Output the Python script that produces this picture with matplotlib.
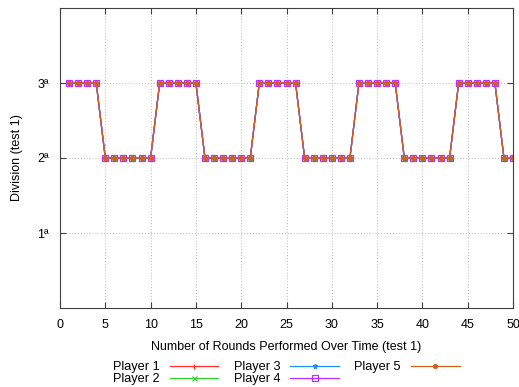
import matplotlib
matplotlib.use("Agg")
import matplotlib.pyplot as plt

rounds = list(range(1, 51))
division = [3, 3, 3, 3, 2, 2, 2, 2, 2, 2,
            3, 3, 3, 3, 3, 2, 2, 2, 2, 2,
            2, 3, 3, 3, 3, 3, 2, 2, 2, 2,
            2, 2, 3, 3, 3, 3, 3, 2, 2, 2,
            2, 2, 2, 3, 3, 3, 3, 3, 2, 2]
players = ["Player 1", "Player 2", "Player 3", "Player 4", "Player 5"]
series = {p: division for p in players}
colors = ["#ff3030", "#30d030", "#2090ff", "#c030ff", "#d0601e"]
markers = ["+", "x", "*", "s", "o"]
x_ticks = list(range(0, 51, 5))
y_ticks = [1, 2, 3]
y_labels = ["1ª", "2ª", "3ª"]

plt.rcParams['font.family'] = ['Liberation Sans', 'DejaVu Sans']
fig = plt.figure(figsize=(5.19, 3.87), dpi=100)
ax = fig.add_axes([60/519, 1-308/387, 453/519, 300/387])

for p, c, m in zip(players, colors, markers):
    kw = dict(color=c, lw=0.9, marker=m, markersize=3.6, markeredgewidth=0.9, label=p)
    if m == "s":
        kw.update(markerfacecolor="none", markersize=4)
    if m == "o":
        kw.update(markersize=2.8)
    ax.plot(rounds, series[p], **kw)

ax.set_xlim(0, 50)
ax.set_ylim(0, 4)
ax.set_xticks(x_ticks)
ax.set_yticks(y_ticks)
ax.set_yticklabels(y_labels)
ax.grid(True, color="#b8b8b8", linestyle=(0, (1, 2)), lw=0.7)
ax.tick_params(direction="in", top=True, right=True, length=4, width=0.8,
               labelsize=9, colors="#404040", labelcolor="black", pad=8)
for s in ax.spines.values():
    s.set_color("#404040")
    s.set_linewidth(0.8)
ax.set_xlabel("Number of Rounds Performed Over Time (test 1)", fontsize=9, labelpad=7)
ax.set_ylabel("Division (test 1)", fontsize=9, labelpad=10)

leg = ax.legend(loc="upper left", bbox_to_anchor=(113/519, 1-361/387), bbox_transform=fig.transFigure,
                ncol=3, markerfirst=False, frameon=False, fontsize=9.2,
                handlelength=3.8, handletextpad=0.8, columnspacing=1.2, labelspacing=0.0,
                borderpad=0, borderaxespad=0)

fig.savefig("out.png", dpi=100)
